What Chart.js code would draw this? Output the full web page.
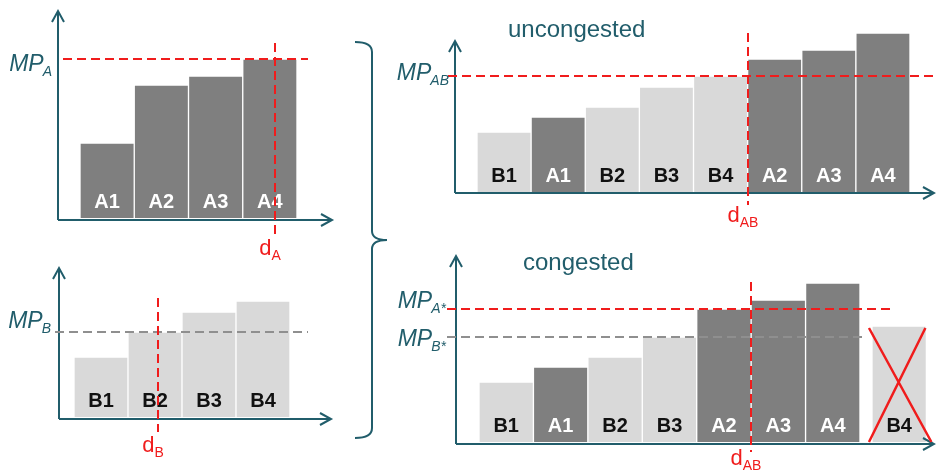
<!DOCTYPE html>
<html>
<head>
<meta charset="utf-8">
<script src="https://cdn.jsdelivr.net/npm/chart.js@4.4.1/dist/chart.umd.min.js"></script>
<style>
	html, body { margin: 0; padding: 0; background: #fff; }
	#wrap { position: relative; width: 936px; height: 476px; overflow: hidden; }
	#wrap canvas { position: absolute; left: 0; top: 0; }
</style>
</head>
<body>
<div id="wrap">
	<canvas id="c1" width="936" height="476"></canvas>
	<canvas id="c2" width="936" height="476"></canvas>
	<canvas id="c3" width="936" height="476"></canvas>
	<canvas id="c4" width="936" height="476"></canvas>
</div>
<script>
// bid values of the two zones (marginal price steps)
var aLabels = ['A1', 'A2', 'A3', 'A4'];
var aValues = [7.5, 13.3, 14.2, 15.9];
var bLabels = ['B1', 'B2', 'B3', 'B4'];
var bValues = [6.0, 8.5, 10.5, 11.6];

// merit orders of the coupled market
var uncongestedOrder = ['B1', 'A1', 'B2', 'B3', 'B4', 'A2', 'A3', 'A4'];
var congestedOrder = ['B1', 'A1', 'B2', 'B3', 'A2', 'A3', 'A4', 'B4'];
var congestedDropped = ['B4'];

// clearing prices and demands
var mpA = 15.9, mpB = 8.5, mpAB = 11.6, mpAStar = 13.3, mpBStar = 10.5;
var dA = 3.6, dB = 1.55, dAB = 5;

var TEAL = '#215d6b',
	RED = '#f01c1c',
	GRAY = '#8f8f8f',
	DARK = '#7f7f7f',
	LIGHT = '#d9d9d9',
	FONT = '"Liberation Sans", Arial, sans-serif',
	PX_PER_UNIT = 10;

function valueOf(name) {
	if (name.charAt(0) == 'A') return aValues[aLabels.indexOf(name)];
	return bValues[bLabels.indexOf(name)];
}

var panels = [
	{
		id: 'c1', names: aLabels, axisY: 220, tipY: 10, brace: true,
		box: {left: 58, top: 5, right: 333, bottom: 218},
		bars: {left: 80, right: 297, count: 4},
		hlines: [{value: mpA, color: RED, from: 63, to: 308, sub: 'A', labelRight: 53, dy: 12}],
		vline: {q: dA, top: 43, bottom: 238, sub: 'A', baseline: 255}
	},
	{
		id: 'c2', names: bLabels, axisY: 419, tipY: 267,
		box: {left: 59, top: 262, right: 332, bottom: 417},
		bars: {left: 74, right: 290, count: 4},
		hlines: [{value: mpB, color: GRAY, from: 55, to: 308, sub: 'B', labelRight: 52, dy: -4}],
		vline: {q: dB, top: 298, bottom: 432, sub: 'B', baseline: 452}
	},
	{
		id: 'c3', names: uncongestedOrder, axisY: 193, tipY: 40,
		box: {left: 455, top: 20, right: 935, bottom: 192},
		bars: {left: 477, right: 910, count: 8},
		hlines: [{value: mpAB, color: RED, from: 448, to: 936, sub: 'AB', labelRight: 450, dy: 4}],
		vline: {q: dAB, top: 33, bottom: 205, sub: 'AB', baseline: 222},
		title: {text: 'uncongested', x: 508, y: 37}
	},
	{
		id: 'c4', names: congestedOrder, axisY: 444, tipY: 255, dropped: congestedDropped, dropGap: 0.22,
		box: {left: 456, top: 250, right: 935, bottom: 442},
		bars: {left: 479, right: 860, count: 7},
		hlines: [
			{value: mpAStar, color: RED, from: 447, to: 891, sub: 'A*', labelRight: 447, dy: -1},
			{value: mpBStar, color: GRAY, from: 447, to: 864, sub: 'B*', labelRight: 447, dy: 9}
		],
		vline: {q: dAB, top: 282, bottom: 452, sub: 'AB', baseline: 465},
		title: {text: 'congested', x: 523, y: 270}
	}
];

function drawSubText(ctx, main, sub, x, baseline, align, color, italic, mainSize, subSize) {
	var st = italic ? 'italic ' : '';
	ctx.save();
	ctx.fillStyle = color;
	ctx.textBaseline = 'alphabetic';
	ctx.textAlign = 'left';
	ctx.font = st + mainSize + 'px ' + FONT;
	var w1 = ctx.measureText(main).width;
	ctx.font = st + subSize + 'px ' + FONT;
	var w2 = ctx.measureText(sub).width;
	var x0 = align == 'right' ? x - w1 - w2 : x - (w1 + w2) / 2;
	ctx.font = st + mainSize + 'px ' + FONT;
	ctx.fillText(main, x0, baseline);
	ctx.font = st + subSize + 'px ' + FONT;
	ctx.fillText(sub, x0 + w1 - (italic ? 1 : 0), baseline + 5);
	ctx.restore();
}

function drawBrace(ctx) {
	ctx.save();
	ctx.strokeStyle = TEAL;
	ctx.lineWidth = 2;
	ctx.beginPath();
	ctx.moveTo(355, 42);
	ctx.quadraticCurveTo(372, 42, 372, 52);
	ctx.lineTo(372, 231);
	ctx.quadraticCurveTo(372, 240, 387, 240);
	ctx.quadraticCurveTo(372, 240, 372, 249);
	ctx.lineTo(372, 428);
	ctx.quadraticCurveTo(372, 438, 355, 438);
	ctx.stroke();
	ctx.restore();
}

function makeDecor(p) {
	return {
		id: 'decor' + p.id,
		afterDatasetsDraw: function (chart) {
			var ctx = chart.ctx,
				area = chart.chartArea,
				xS = chart.scales.x,
				yS = chart.scales.y,
				meta = chart.getDatasetMeta(0);

			/* arrow axes */
			ctx.save();
			ctx.strokeStyle = TEAL;
			ctx.lineWidth = 2;
			ctx.beginPath();
			ctx.moveTo(area.left, p.axisY);
			ctx.lineTo(area.left, p.tipY + 1);
			ctx.moveTo(area.left, p.axisY);
			ctx.lineTo(area.right - 1, p.axisY);
			ctx.stroke();
			ctx.beginPath();
			ctx.moveTo(area.left - 6, p.tipY + 12);
			ctx.lineTo(area.left, p.tipY + 1);
			ctx.lineTo(area.left + 6, p.tipY + 12);
			ctx.moveTo(area.right - 12, p.axisY - 6);
			ctx.lineTo(area.right - 1, p.axisY);
			ctx.lineTo(area.right - 12, p.axisY + 6);
			ctx.stroke();
			ctx.restore();

			/* names inside the bars */
			ctx.save();
			ctx.font = 'bold 20px ' + FONT;
			ctx.textAlign = 'center';
			ctx.textBaseline = 'middle';
			meta.data.forEach(function (el, i) {
				var name = p.names[i];
				ctx.fillStyle = name.charAt(0) == 'A' ? '#ffffff' : '#111111';
				ctx.fillText(name, el.x, el.base - 16);
			});
			ctx.restore();

			/* price levels */
			p.hlines.forEach(function (h) {
				var y = Math.round(yS.getPixelForValue(h.value));
				ctx.save();
				ctx.strokeStyle = h.color;
				ctx.lineWidth = 2;
				ctx.setLineDash([9, 5]);
				ctx.beginPath();
				ctx.moveTo(h.from, y);
				ctx.lineTo(h.to, y);
				ctx.stroke();
				ctx.restore();
				drawSubText(ctx, 'MP', h.sub, h.labelRight, y + h.dy, 'right', TEAL, true, 23, 14);
			});

			/* demand */
			var v = p.vline,
				vx = Math.round(xS.getPixelForValue(v.q - 0.5));
			ctx.save();
			ctx.strokeStyle = RED;
			ctx.lineWidth = 2;
			ctx.setLineDash([9, 5]);
			ctx.beginPath();
			ctx.moveTo(vx, v.top);
			ctx.lineTo(vx, v.bottom);
			ctx.stroke();
			ctx.restore();
			drawSubText(ctx, 'd', v.sub, vx - 5, v.baseline, 'center', RED, false, 22, 14);

			/* bids that drop out get crossed */
			if (p.dropped) {
				meta.data.forEach(function (el, i) {
					if (p.dropped.indexOf(p.names[i]) < 0) return;
					var l = el.x - el.width / 2, r = el.x + el.width / 2;
					ctx.save();
					ctx.strokeStyle = RED;
					ctx.lineWidth = 2.5;
					ctx.beginPath();
					ctx.moveTo(l - 3, el.y + 2);
					ctx.lineTo(r + 5, el.base);
					ctx.moveTo(r - 1, el.y + 2);
					ctx.lineTo(l - 3, el.base);
					ctx.stroke();
					ctx.restore();
				});
			}

			if (p.title) {
				ctx.save();
				ctx.fillStyle = TEAL;
				ctx.font = '24px ' + FONT;
				ctx.textAlign = 'left';
				ctx.textBaseline = 'alphabetic';
				ctx.fillText(p.title.text, p.title.x, p.title.y);
				ctx.restore();
			}

			if (p.brace) drawBrace(ctx);
		}
	};
}

panels.forEach(function (p) {
	var unit = (p.bars.right - p.bars.left) / p.bars.count,
		xMin = -0.5 - (p.bars.left - p.box.left) / unit,
		xMax = p.bars.count - 0.5 + (p.box.right - p.bars.right) / unit,
		yMax = (p.box.bottom - p.box.top) / PX_PER_UNIT;

	var points = p.names.map(function (name, i) {
		var off = (p.dropped && p.dropped.indexOf(name) >= 0) ? p.dropGap : 0;
		return {x: i + off, y: valueOf(name)};
	});
	var colors = p.names.map(function (name) {
		return name.charAt(0) == 'A' ? DARK : LIGHT;
	});

	new Chart(document.getElementById(p.id), {
		type: 'bar',
		data: {
			datasets: [{
				data: points,
				backgroundColor: colors,
				borderColor: '#ffffff',
				borderWidth: 1,
				barThickness: unit
			}]
		},
		options: {
			responsive: false,
			animation: false,
			events: [],
			layout: {padding: {left: p.box.left, top: p.box.top, right: 936 - p.box.right, bottom: 476 - p.box.bottom}},
			plugins: {legend: {display: false}, tooltip: {enabled: false}},
			scales: {
				x: {type: 'linear', min: xMin, max: xMax, offset: false, display: false},
				y: {min: 0, max: yMax, display: false}
			}
		},
		plugins: [makeDecor(p)]
	});
});
</script>
</body>
</html>
